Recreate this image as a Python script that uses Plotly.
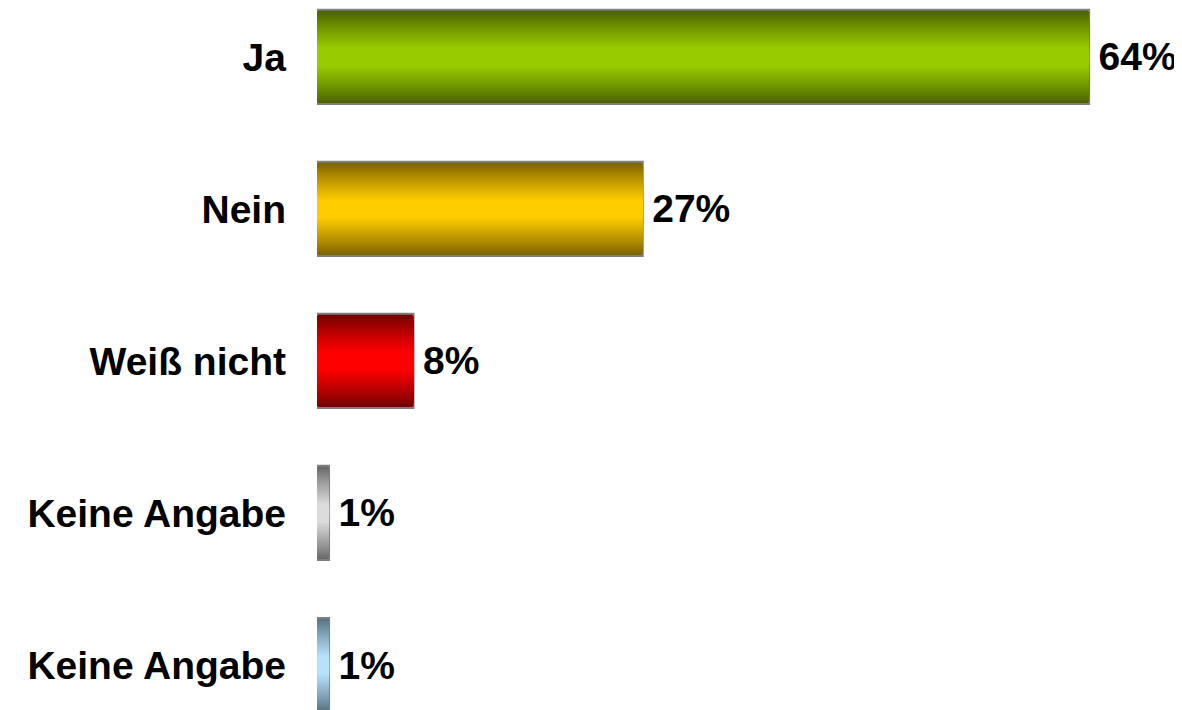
import plotly.graph_objects as go

categories = ["Ja", "Nein", "Weiß nicht", "Keine Angabe", "Keine Angabe"]
values = [64, 27, 8, 1, 1]
edge_colors = ["#4a6000", "#7a6000", "#700000", "#666666", "#56707f"]
center_colors = ["#99cc00", "#ffcc00", "#ff0000", "#dcdcdc", "#b5e2ff"]

positions = list(range(len(categories)))
N_LAYERS = 24
BAR_W = 0.62


def hex2rgb(h):
    h = h.lstrip("#")
    return tuple(int(h[i:i + 2], 16) for i in (0, 2, 4))


def mix(c1, c2, f):
    a, b = hex2rgb(c1), hex2rgb(c2)
    return "rgb(%d,%d,%d)" % tuple(round(a[k] + (b[k] - a[k]) * f) for k in range(3))


fig = go.Figure()
for i in range(N_LAYERS):
    t = i / N_LAYERS
    f = min(1.0, t * 1.25)
    f = f ** 0.9
    w = BAR_W * (1 - t)
    first = i == 0
    fig.add_trace(go.Bar(
        x=values,
        y=positions,
        orientation="h",
        width=w,
        marker=dict(
            color=[mix(e, c, f) for e, c in zip(edge_colors, center_colors)],
            line=dict(color="#808080", width=2 if first else 0),
        ),
        text=[f"\u2006{v}%" for v in values] if first else None,
        textposition="outside" if first else "none",
        textfont=dict(family="Liberation Sans, Arial, sans-serif", size=39, color="black", weight="bold"),
        cliponaxis=False,
        showlegend=False,
        hoverinfo="skip" if not first else None,
    ))

fig.update_layout(
    width=1174,
    height=702,
    margin=dict(l=309, r=0, t=0, b=0),
    barmode="overlay",
    plot_bgcolor="white",
    paper_bgcolor="white",
    showlegend=False,
    xaxis=dict(range=[0, 71.7], visible=False, showgrid=False, zeroline=False),
    yaxis=dict(
        range=[4.296, -0.322],
        tickvals=positions,
        ticktext=categories,
        showgrid=False,
        zeroline=False,
        showline=False,
        ticks="",
        ticklabelstandoff=30,
        tickfont=dict(family="Liberation Sans, Arial, sans-serif", size=39, color="black", weight="bold"),
    ),
)

fig.write_html("out.html")
